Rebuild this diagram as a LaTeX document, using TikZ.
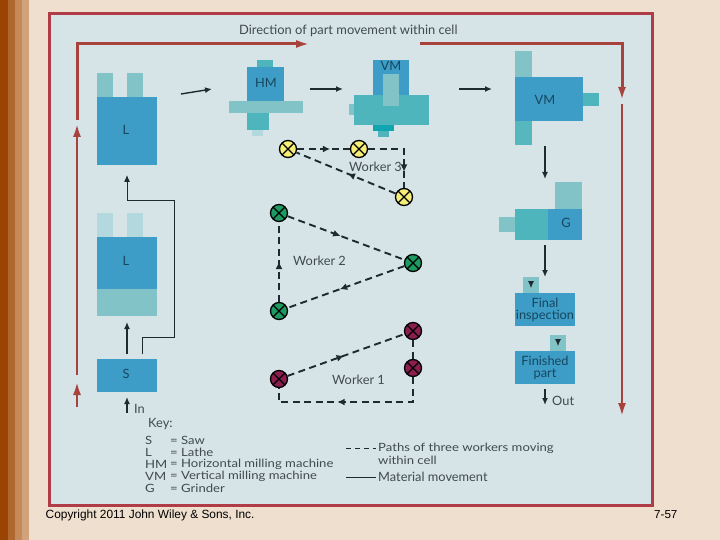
\documentclass[tikz,border=0pt]{standalone}
\usepackage{fontspec}
\setmainfont{Lato}
\newfontfamily\arialf{Liberation Sans}
\newfontfamily\keyfont[FakeStretch=1.15]{Lato}
\usetikzlibrary{arrows.meta,decorations.markings}
\definecolor{pagebg}{HTML}{EEDFCF}
\definecolor{panel}{HTML}{D6E4E7}
\definecolor{rim}{HTML}{B03C48}
\definecolor{redarrow}{HTML}{A8423C}
\definecolor{mblue}{HTML}{3D9DC6}
\definecolor{mteal}{HTML}{4FB5BC}
\definecolor{mlight}{HTML}{82C3C8}
\definecolor{mpale}{HTML}{B3D8DE}
\definecolor{mdeep}{HTML}{10A5B0}
\definecolor{ink}{HTML}{1F2A30}
\definecolor{lbl}{HTML}{17465F}
\definecolor{wyellow}{HTML}{F7EE78}
\definecolor{wgreen}{HTML}{1C9A62}
\definecolor{wred}{HTML}{8A1F4E}
\definecolor{stripeA}{HTML}{9A4303}
\definecolor{stripeB}{HTML}{B0672F}
\definecolor{stripeC}{HTML}{C58A58}
\definecolor{stripeD}{HTML}{D2A27C}
\newcommand{\bx}[5]{\fill[#5] (#1,#2) rectangle (#3,#4);}
\tikzset{
  x=1pt,y=-1pt,
  flow/.style={draw=ink,line width=1.4pt,-{Latex[length=7pt,width=6pt]}},
  flowthin/.style={draw=ink,line width=1.2pt},
  redline/.style={draw=redarrow,line width=3pt},
  redtip/.style={draw=redarrow,line width=2.8pt,-{Latex[length=14pt,width=8pt]}},
  workerpath/.style={draw=ink,line width=1.9pt,dash pattern=on 7pt off 4.5pt},
  midarrow/.style={decorate,decoration={markings,mark=at position #1 with {\arrow[ink,line width=0pt]{Latex[length=7pt,width=6.5pt]}}}},
  worker/.style={circle,draw=black,line width=1.3pt,minimum size=17pt,inner sep=0pt,fill=#1,
    path picture={\draw[black,line width=1.1pt] (path picture bounding box.north west)--(path picture bounding box.south east) (path picture bounding box.north east)--(path picture bounding box.south west);}},
  mlabel/.style={text=lbl,font=\fontsize{12.8}{12.2}\selectfont,inner sep=0pt,align=center},
  txt/.style={text=ink!85,font=\fontsize{12.8}{12}\selectfont,inner sep=0pt,anchor=west},
  keytxt/.style={text=ink!85,font=\keyfont\fontsize{11.4}{12}\selectfont,inner sep=0pt,anchor=west},
  foot/.style={text=black,font=\arialf\fontsize{11.9}{12}\selectfont,inner sep=0pt,anchor=west},
}
\begin{document}
\begin{tikzpicture}
\useasboundingbox (0,0) rectangle (720,540);
\fill[pagebg] (0,0) rectangle (720,540);
\bx{0}{0}{8}{540}{stripeA}
\bx{8}{0}{15}{540}{stripeB}
\bx{15}{0}{22}{540}{stripeC}
\bx{22}{0}{29}{540}{stripeD}
\draw[rim,line width=3pt,fill=panel] (49.5,14) rectangle (652,505);

% Red direction arrows
\coordinate (ra) at (77,407); \coordinate (rb) at (77,381);
\coordinate (rc) at (77,375); \coordinate (rd) at (77,123);
\coordinate (re) at (77,120); \coordinate (rf) at (77,44); \coordinate (rg) at (310,44);
\coordinate (rh) at (420,44); \coordinate (ri) at (622,44); \coordinate (rj) at (622,100);
\coordinate (rk) at (622,104); \coordinate (rl) at (622,417);
\draw[redtip] (ra) -- (rb);
\draw[redtip] (rc) -- (rd);
\draw[redline,-{Latex[length=14pt,width=8pt]}] (re) -- (rf) -- (rg);
\draw[redline,-{Latex[length=13pt,width=8pt]}] (rh) -- (ri) -- (rj);
\draw[redtip] (rk) -- (rl);

% Lathe 1
\bx{97}{73}{113}{97}{mlight}
\bx{127}{73}{143}{97}{mlight}
\bx{97}{97}{157}{165}{mblue}
\node[mlabel] (L1) at (126,130) {L};
% Horizontal mill
\bx{257}{60}{273}{67}{mteal}
\bx{247}{67}{284}{101}{mblue}
\bx{229}{101}{303}{113}{mlight}
\bx{247}{113}{269}{130}{mteal}
\bx{252}{130}{263}{136}{mpale}
\node[mlabel] (HM) at (266,83) {HM};
% Vertical mill 1
\bx{373}{60}{409}{95}{mblue}
\bx{349}{104}{354}{115}{mlight}
\bx{354}{95}{429}{125}{mteal}
\bx{383}{74}{399}{106}{mlight}
\bx{373}{125}{394}{131}{mdeep}
\bx{378}{131}{389}{137}{mteal}
\node[mlabel] (VM1) at (391,66) {VM};
% Vertical mill 2
\bx{515}{51}{532}{77}{mlight}
\bx{515}{77}{583}{121}{mblue}
\bx{583}{93}{599}{106}{mteal}
\bx{515}{121}{532}{145}{mteal!85!mlight}
\node[mlabel] (VM2) at (545,100) {VM};
% Grinder
\bx{555}{182}{582}{209}{mlight}
\bx{499}{217}{515}{232}{mlight}
\bx{515}{209}{548}{240}{mteal}
\bx{548}{209}{582}{240}{mblue}
\node[mlabel] (G) at (566,223) {G};
% Final inspection
\bx{523}{277}{539}{293}{mlight}
\bx{515}{293}{575}{326}{mblue}
\node[mlabel] (FI) at (545,309.5) {Final\\inspection};
% Finished part
\bx{550}{335}{566}{351}{mlight}
\bx{515}{351}{575}{384}{mblue}
\node[mlabel] (FP) at (545,367.5) {Finished\\part};
% Lathe 2
\bx{97}{213}{113}{237}{mpale}
\bx{127}{213}{143}{237}{mpale}
\bx{97}{237}{157}{289}{mblue}
\bx{97}{289}{157}{316}{mlight}
\node[mlabel] (L2) at (126,261) {L};
% Saw
\bx{97}{359}{157}{392}{mblue}
\node[mlabel] (S) at (126,374) {S};

% Material movement
\coordinate (a1) at (181,94); \coordinate (a2) at (212,89);
\coordinate (b1) at (310,89); \coordinate (b2) at (343,89);
\coordinate (c1) at (459,89); \coordinate (c2) at (492,89);
\coordinate (d1) at (545,146); \coordinate (d2) at (545,179);
\coordinate (e1) at (545,245); \coordinate (e2) at (545,277);
\coordinate (f1) at (531,282); \coordinate (f2) at (531,288);
\coordinate (g1) at (558,340); \coordinate (g2) at (558,346);
\coordinate (h1) at (545,389); \coordinate (h2) at (545,405);
\coordinate (i1) at (127,413); \coordinate (i2) at (127,397);
\coordinate (j1) at (127,354); \coordinate (j2) at (127,322);
\coordinate (k1) at (142,354); \coordinate (k2) at (174,337);
\coordinate (k3) at (174,201); \coordinate (k4) at (127,201); \coordinate (k5) at (127,175);
\draw[flow] (a1) -- (a2);
\draw[flow] (b1) -- (b2);
\draw[flow] (c1) -- (c2);
\draw[flow] (d1) -- (d2);
\draw[flow] (e1) -- (e2);
\draw[flow,line width=.8pt] (f1) -- (f2);
\draw[flow,line width=.8pt] (g1) -- (g2);
\draw[flow] (h1) -- (h2);
\draw[flow,line width=1.7pt] (i1) -- (i2);
\draw[flow,line width=1.7pt] (j1) -- (j2);
\draw[flow,line width=1pt] (k1) |- (k2) -- (k3) -- (k4) -- (k5);

% Workers
\node[worker=wyellow] (y1) at (288,149) {};
\node[worker=wyellow] (y2) at (359,149) {};
\node[worker=wyellow] (y3) at (404,197) {};
\node[worker=wgreen] (g1n) at (279,213) {};
\node[worker=wgreen] (g2n) at (413,263) {};
\node[worker=wgreen] (g3n) at (279,311) {};
\node[worker=wred] (r1) at (413,331) {};
\node[worker=wred] (r2) at (413,368) {};
\node[worker=wred] (r3) at (279,379) {};

\coordinate (rq) at (413,402); \coordinate (rp) at (279,402);
\draw[workerpath] (y1) -- (y2);
\draw[workerpath] (y2) -| (y3);
\draw[workerpath] (y3) -- (y1);
\draw[workerpath] (g1n) -- (g2n);
\draw[workerpath] (g2n) -- (g3n);
\draw[workerpath] (g3n) -- (g1n);
\draw[workerpath] (r3) -- (r1);
\draw[workerpath] (r1) -- (r2);
\draw[workerpath] (r2) -- (rq) -- (rp) -- (r3);
\path[midarrow=.62] (y1) -- (y2);
\path[midarrow=.78] (y2) -| (y3);
\path[midarrow=.48] (y3) -- (y1);
\path[midarrow=.45] (g1n) -- (g2n);
\path[midarrow=.55] (g2n) -- (g3n);
\path[midarrow=.5] (g3n) -- (g1n);
\path[midarrow=.48] (r3) -- (r1);
\path[midarrow=.58] (r2) -- (rq) -- (rp) -- (r3);

\node[txt] (w3) at (349,167) {Worker 3};
\node[txt] (w2) at (293,261) {Worker 2};
\node[txt] (w1) at (332,380) {Worker 1};

% Texts
\node[txt,font=\fontsize{12.9}{12}\selectfont] (dir) at (239,31) {Direction of part movement within cell};
\node[txt] (in) at (134,409) {In};
\node[txt] (out) at (552,401) {Out};
\node[txt] (key) at (148,424) {Key:};
\node[keytxt] (ks) at (145,440) {S};
\node[keytxt] (kse) at (170,440) {= Saw};
\node[keytxt] (kl) at (145,452) {L};
\node[keytxt] (kle) at (170,452) {= Lathe};
\node[keytxt] (khm) at (145,464) {HM};
\node[keytxt] (khme) at (170,464) {= Horizontal milling machine};
\node[keytxt] (kvm) at (145,476) {VM};
\node[keytxt] (kvme) at (170,476) {= Vertical milling machine};
\node[keytxt] (kg) at (145,488) {G};
\node[keytxt] (kge) at (170,488) {= Grinder};
\node[keytxt] (kp1) at (378,448) {Paths of three workers moving};
\node[keytxt] (kp2) at (378,460) {within cell};
\node[txt] (kmm) at (378,477) {Material movement};
\coordinate (lp) at (346,448); \coordinate (lm) at (346,477);
\draw[draw=ink,line width=1pt,dash pattern=on 5pt off 4pt] (lp) -- ([xshift=-2pt]kp1.west);
\draw[flowthin,line width=.8pt] (lm) -- ([xshift=-2pt]kmm.west);

\node[foot] (copy) at (45.5,515) {Copyright 2011 John Wiley \& Sons, Inc.};
\node[foot,font=\arialf\fontsize{11.6}{12}\selectfont] (pg) at (654,514.5) {7-57};
\end{tikzpicture}
\end{document}
